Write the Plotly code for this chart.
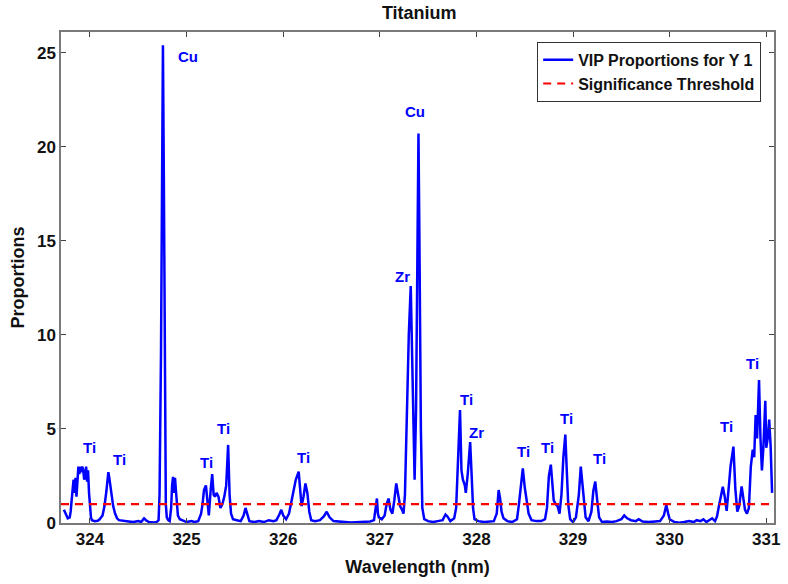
import plotly.graph_objects as go

# ---------------- data ----------------
wavelength = [
    323.73, 323.75, 323.77, 323.79, 323.80, 323.81, 323.82, 323.83, 323.84, 323.85,
    323.86, 323.87, 323.88, 323.89, 323.90, 323.91, 323.92, 323.93, 323.94, 323.95,
    323.96, 323.97, 323.98, 323.99, 324.00, 324.01, 324.02, 324.05, 324.08, 324.10,
    324.13, 324.15, 324.17, 324.19, 324.20, 324.22, 324.24, 324.26, 324.28, 324.30,
    324.35, 324.40, 324.45, 324.50, 324.53, 324.56, 324.58, 324.61, 324.66, 324.69,
    324.71, 324.72, 324.735, 324.745, 324.755, 324.765, 324.775, 324.785, 324.795, 324.81,
    324.825, 324.84, 324.85, 324.86, 324.87, 324.88, 324.89, 324.90, 324.91, 324.93,
    324.97, 325.00, 325.05, 325.08, 325.12, 325.15, 325.165, 325.18, 325.20, 325.215,
    325.23, 325.25, 325.265, 325.28, 325.295, 325.31, 325.33, 325.35, 325.37, 325.39,
    325.41, 325.43, 325.445, 325.46, 325.48, 325.52, 325.56, 325.59, 325.61, 325.63,
    325.65, 325.70, 325.75, 325.80, 325.85, 325.90, 325.93, 325.96, 325.98, 326.00,
    326.03, 326.06, 326.09, 326.11, 326.13, 326.16, 326.18, 326.19, 326.21, 326.23,
    326.25, 326.27, 326.29, 326.33, 326.38, 326.42, 326.45, 326.48, 326.52, 326.60,
    326.70, 326.80, 326.90, 326.94, 326.96, 326.97, 326.98, 326.99, 327.02, 327.05,
    327.07, 327.09, 327.11, 327.13, 327.15, 327.17, 327.19, 327.21, 327.23, 327.245,
    327.26, 327.28, 327.30, 327.32, 327.335, 327.35, 327.36, 327.375, 327.39, 327.40,
    327.41, 327.425, 327.44, 327.46, 327.50, 327.55, 327.60, 327.65, 327.68, 327.70,
    327.73, 327.77, 327.79, 327.81, 327.83, 327.845, 327.86, 327.88, 327.89, 327.91,
    327.935, 327.95, 327.965, 327.98, 328.02, 328.08, 328.14, 328.18, 328.21, 328.23,
    328.245, 328.26, 328.28, 328.32, 328.37, 328.42, 328.44, 328.46, 328.48, 328.50,
    328.52, 328.54, 328.57, 328.62, 328.67, 328.71, 328.73, 328.75, 328.77, 328.79,
    328.80, 328.82, 328.84, 328.86, 328.88, 328.90, 328.92, 328.935, 328.95, 328.97,
    329.00, 329.03, 329.06, 329.08, 329.095, 329.11, 329.13, 329.16, 329.19, 329.21,
    329.23, 329.25, 329.27, 329.30, 329.35, 329.40, 329.45, 329.50, 329.53, 329.56,
    329.60, 329.65, 329.68, 329.72, 329.78, 329.85, 329.90, 329.94, 329.965, 329.985,
    330.00, 330.05, 330.10, 330.15, 330.20, 330.25, 330.28, 330.32, 330.35, 330.38,
    330.41, 330.44, 330.47, 330.49, 330.51, 330.53, 330.55, 330.57, 330.59, 330.61,
    330.63, 330.66, 330.68, 330.70, 330.72, 330.745, 330.76, 330.78, 330.80, 330.82,
    330.84, 330.86, 330.875, 330.89, 330.905, 330.925, 330.94, 330.955, 330.97, 330.99,
    331.00, 331.015, 331.03, 331.045, 331.06,
]

vip_proportions = [
    0.70, 0.45, 0.25, 0.30, 0.60, 1.20, 1.70, 2.30, 1.60, 2.40,
    1.40, 2.60, 3.00, 2.60, 3.00, 2.70, 3.00, 2.80, 2.30, 2.60,
    3.00, 2.20, 2.80, 1.60, 0.80, 0.30, 0.15, 0.10, 0.12, 0.20,
    0.40, 0.90, 1.70, 2.70, 2.40, 1.60, 0.90, 0.50, 0.25, 0.15,
    0.10, 0.08, 0.05, 0.10, 0.05, 0.25, 0.15, 0.05, 0.03, 0.05,
    0.15, 1.50, 9.00, 20.0, 25.4, 18.0, 6.00, 1.00, 0.30, 0.15,
    0.10, 0.80, 2.00, 2.45, 1.60, 2.40, 1.70, 0.80, 0.40, 0.20,
    0.10, 0.05, 0.10, 0.05, 0.10, 0.50, 1.00, 1.75, 2.00, 1.20,
    0.40, 1.80, 2.60, 1.50, 1.40, 1.60, 1.40, 0.80, 1.00, 1.40,
    2.00, 4.15, 1.50, 0.50, 0.20, 0.15, 0.10, 0.40, 0.80, 0.45,
    0.10, 0.05, 0.10, 0.05, 0.15, 0.10, 0.15, 0.45, 0.70, 0.40,
    0.20, 0.50, 1.30, 1.70, 2.30, 2.73, 1.50, 0.90, 1.40, 2.10,
    1.60, 0.60, 0.15, 0.10, 0.15, 0.35, 0.60, 0.30, 0.10, 0.05,
    0.02, 0.05, 0.08, 0.15, 0.80, 1.30, 0.50, 0.30, 0.20, 0.40,
    1.00, 1.30, 0.70, 0.50, 1.20, 2.10, 1.50, 0.90, 0.70, 0.50,
    1.50, 6.00, 10.0, 12.6, 8.00, 3.00, 2.30, 6.00, 15.0, 20.7,
    15.0, 5.00, 0.80, 0.20, 0.10, 0.05, 0.10, 0.15, 0.45, 0.35,
    0.10, 0.25, 0.80, 3.00, 6.00, 2.80, 2.30, 2.00, 1.60, 2.60,
    4.30, 2.60, 0.80, 0.20, 0.10, 0.05, 0.10, 0.10, 0.50, 1.75,
    1.30, 0.60, 0.25, 0.10, 0.05, 0.20, 1.00, 2.00, 2.90, 1.90,
    1.20, 0.50, 0.15, 0.10, 0.10, 0.20, 0.80, 2.50, 3.10, 2.00,
    1.20, 1.00, 0.90, 0.50, 1.50, 3.50, 4.70, 2.80, 1.00, 0.20,
    0.05, 0.30, 1.50, 3.00, 2.20, 1.00, 0.30, 0.10, 0.60, 1.70,
    2.20, 1.20, 0.30, 0.05, 0.08, 0.05, 0.10, 0.20, 0.40, 0.25,
    0.15, 0.10, 0.20, 0.08, 0.05, 0.08, 0.10, 0.40, 0.95, 0.50,
    0.20, 0.05, 0.02, 0.05, 0.10, 0.05, 0.15, 0.10, 0.20, 0.05,
    0.15, 0.25, 0.10, 0.35, 0.90, 1.50, 1.93, 1.40, 0.65, 1.80,
    3.00, 4.06, 1.80, 0.60, 0.90, 1.95, 1.50, 0.70, 0.50, 0.80,
    3.00, 3.90, 3.50, 5.74, 4.50, 7.60, 4.50, 2.80, 4.00, 6.50,
    4.00, 4.50, 5.50, 4.10, 1.60,
]

threshold_value = 1.0
x_range = [323.70, 331.08]
y_range = [0, 26.1]
x_ticks = [324, 325, 326, 327, 328, 329, 330, 331]
y_ticks = [0, 5, 10, 15, 20, 25]

peak_labels = ["Ti", "Ti", "Cu", "Ti", "Ti", "Ti", "Zr", "Cu", "Ti", "Zr",
               "Ti", "Ti", "Ti", "Ti", "Ti", "Ti"]
peak_label_x = [324.00, 324.31, 325.01, 325.21, 325.38, 326.21, 327.23, 327.36, 327.90, 328.00,
                328.49, 328.74, 328.93, 329.27, 330.59, 330.86]
peak_label_y = [4.04, 3.40, 24.8, 3.24, 5.00, 3.46, 13.1, 21.86, 6.54, 4.79,
                3.78, 3.99, 5.58, 3.45, 5.11, 8.50]

# ---------------- figure ----------------
FONT = "Liberation Sans, Arial, Helvetica, sans-serif"
AXIS_GRAY = "#7a7a7a"

fig = go.Figure()
fig.add_trace(go.Scatter(
    x=wavelength, y=vip_proportions, mode="lines",
    name="VIP Proportions for Y 1",
    line=dict(color="#0000ff", width=2.5),
))
fig.add_trace(go.Scatter(
    x=x_range, y=[threshold_value, threshold_value], mode="lines",
    name="Significance Threshold",
    line=dict(color="#ff0000", width=2.2, dash="8px,6px"),
))

for t, lx, ly in zip(peak_labels, peak_label_x, peak_label_y):
    fig.add_annotation(x=lx, y=ly, text=t, showarrow=False,
                       font=dict(family=FONT, size=15, color="#0000ff", weight="bold"),
                       xanchor="center", yanchor="middle")

axis_common = dict(
    showgrid=False, zeroline=False, showline=True, linecolor=AXIS_GRAY, linewidth=1.5,
    mirror="ticks", ticks="inside", ticklen=5, tickcolor="#444444", tickwidth=1,
    tickfont=dict(family=FONT, size=17, color="#111111", weight="bold"),
)

fig.update_layout(
    width=788, height=584,
    margin=dict(l=61, r=8, t=32, b=61),
    paper_bgcolor="white", plot_bgcolor="white",
    title=dict(text="Titanium", x=0.532, xanchor="center", y=1 - 13 / 584, yanchor="middle",
               yref="container",
               font=dict(family=FONT, size=18, color="#111111", weight="bold")),
    xaxis=dict(range=x_range, tickvals=x_ticks, **axis_common,
               title=dict(text="Wavelength (nm)", standoff=12,
                          font=dict(family=FONT, size=18, color="#111111", weight="bold"))),
    yaxis=dict(range=y_range, tickvals=y_ticks, **axis_common,
               title=dict(text="Proportions", standoff=8,
                          font=dict(family=FONT, size=18, color="#111111", weight="bold"))),
    legend=dict(x=0.982, y=0.98, xanchor="right", yanchor="top",
                bgcolor="white", bordercolor="#333333", borderwidth=1,
                font=dict(family=FONT, size=16, color="#111111", weight="bold"),
                tracegroupgap=0, itemwidth=30),
    showlegend=True,
)

fig.write_html("out.html", config={"displayModeBar": False},
               post_script="document.body.style.margin='0px';")
